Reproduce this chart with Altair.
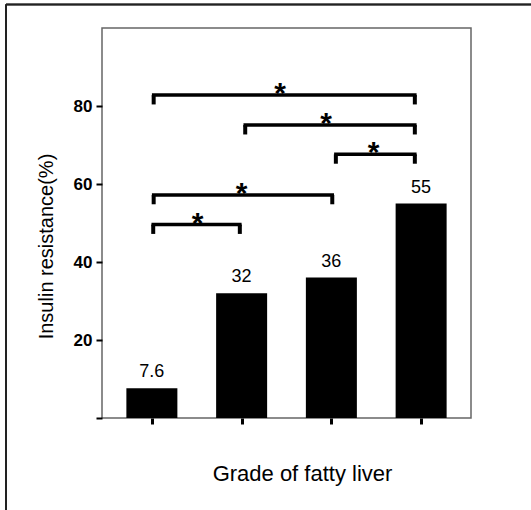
import altair as alt
import pandas as pd

# ---- data ----
grades = [1, 2, 3, 4]
values = [7.6, 32, 36, 55]
value_labels = ["7.6", "32", "36", "55"]

# significance brackets (x in grade units, y in %)
br_x1 = [1.02, 2.04, 3.05, 1.02, 1.015]
br_x2 = [3.93, 3.93, 3.93, 3.01, 1.98]
br_y = [82.8, 75.1, 67.6, 57.2, 49.6]
star_x = [2.43, 2.94, 3.47, 2.00, 1.51]
star_text = ["*", "*", "*", "*", "*"]

y_ticks = [0, 20, 40, 60, 80]
x_ticks = [1, 2, 3, 4]

FONT = "Liberation Sans"
W, H = 369, 390
LEFT, TOP = 102, 28

bars_df = pd.DataFrame({"grade": grades, "value": values, "label": value_labels})
br_df = pd.DataFrame({"x1": br_x1, "x2": br_x2, "y": br_y})
tick_rows = []
for a, b, y in zip(br_x1, br_x2, br_y):
    tick_rows.append({"x": a, "y": y, "y2": y - 2.4})
    tick_rows.append({"x": b, "y": y, "y2": y - 2.4})
tick_df = pd.DataFrame(tick_rows)
star_df = pd.DataFrame({"x": star_x, "y": br_y, "t": star_text})

xscale = alt.Scale(domain=[0.5, 4.5], nice=False, zero=False)
yscale = alt.Scale(domain=[0, 100], nice=False)

xaxis = alt.Axis(
    values=x_ticks, labels=False, domain=False, grid=False,
    tickColor="black", tickWidth=3, tickSize=6,
    title="Grade of fatty liver", titleFont=FONT, titleFontSize=22,
    titleFontWeight="normal", titleColor="black",
    titleX=200, titleY=62, titleBaseline="alphabetic", titleAlign="center",
)
yaxis = alt.Axis(
    values=y_ticks, domain=False, grid=False,
    tickColor="black", tickWidth=2, tickSize=6,
    labelFont=FONT, labelFontSize=17, labelFontWeight="bold", labelColor="black",
    labelPadding=4, labelExpr="datum.value == 0 ? '' : datum.label",
    title="Insulin resistance(%)", titleFont=FONT, titleFontSize=20,
    titleFontWeight="normal", titleColor="black",
    titleX=-50, titleY=218, titleAngle=-90, titleBaseline="alphabetic", titleAlign="center",
)

bars = alt.Chart(bars_df).mark_bar(color="black", size=51).encode(
    x=alt.X("grade:Q", scale=xscale, axis=xaxis),
    y=alt.Y("value:Q", scale=yscale, axis=yaxis),
)
labels = alt.Chart(bars_df).mark_text(
    font=FONT, fontSize=18, color="black", baseline="alphabetic", dy=-11
).encode(
    x=alt.X("grade:Q", scale=xscale),
    y=alt.Y("value:Q", scale=yscale),
    text="label:N",
)
hlines = alt.Chart(br_df).mark_rule(color="black", strokeWidth=3.5, strokeCap="square").encode(
    x=alt.X("x1:Q", scale=xscale),
    x2="x2:Q",
    y=alt.Y("y:Q", scale=yscale),
)
vticks = alt.Chart(tick_df).mark_rule(color="black", strokeWidth=4).encode(
    x=alt.X("x:Q", scale=xscale),
    y=alt.Y("y:Q", scale=yscale),
    y2="y2:Q",
)
stars = alt.Chart(star_df).mark_text(
    font=FONT, fontSize=30, fontWeight="bold", color="black", baseline="alphabetic", dy=8
).encode(
    x=alt.X("x:Q", scale=xscale),
    y=alt.Y("y:Q", scale=yscale),
    text="t:N",
)

frame_top = alt.Chart(bars_df).mark_rule(color="#222222", strokeWidth=1.5).encode(
    x=alt.value(6 - LEFT), x2=alt.value(531 - LEFT), y=alt.value(4.5 - TOP)
)
frame_left = alt.Chart(bars_df).mark_rule(color="#222222", strokeWidth=1.5).encode(
    x=alt.value(6 - LEFT), y=alt.value(4.5 - TOP), y2=alt.value(510 - TOP)
)

chart = alt.layer(frame_top, frame_left, bars, labels, hlines, vticks, stars).properties(
    width=W, height=H,
    autosize=alt.AutoSizeParams(type="none"),
    padding={"left": LEFT, "top": TOP, "right": 531 - LEFT - W, "bottom": 510 - TOP - H},
    background="white",
).configure_view(stroke="#666666", strokeWidth=1.5)

chart.save("out.html", embed_options={"renderer": "svg", "actions": False})
